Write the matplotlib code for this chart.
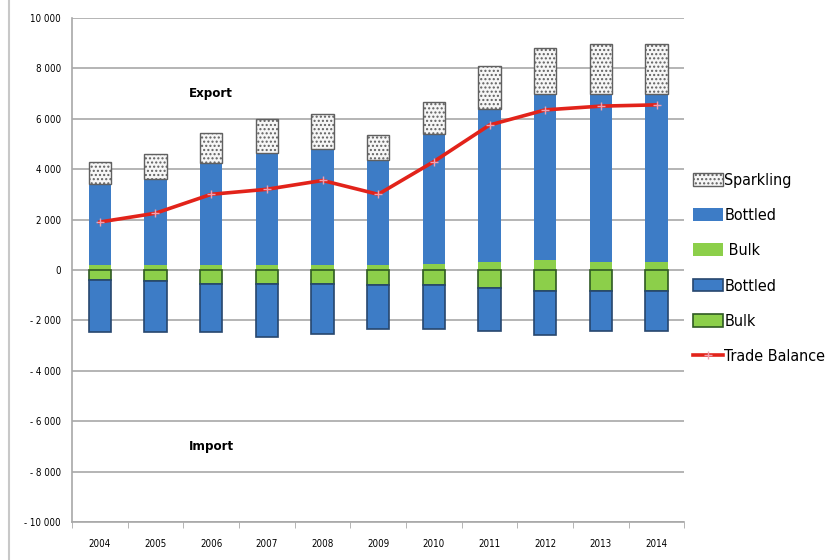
import numpy as np
import matplotlib.pyplot as plt
from matplotlib.lines import Line2D
from matplotlib.ticker import FuncFormatter, FixedLocator

plt.rcParams['font.family'] = ['DejaVu Sans']
plt.rcParams['font.stretch'] = 'condensed'

years = ['2004', '2005', '2006', '2007', '2008', '2009', '2010', '2011', '2012', '2013', '2014']

# export side (positive), stacked: bulk, bottled, sparkling
exp_bulk = [200, 200, 200, 200, 200, 200, 250, 300, 400, 300, 300]
exp_bottled = [3200, 3400, 4050, 4450, 4600, 4150, 5150, 6100, 6600, 6700, 6700]
exp_sparkling = [900, 1000, 1200, 1350, 1400, 1000, 1250, 1700, 1800, 1950, 1950]

# import side (negative), stacked downward: bulk, bottled
imp_bulk = [-400, -450, -550, -550, -550, -600, -600, -720, -820, -820, -820]
imp_bottled = [-2080, -2030, -1930, -2130, -2010, -1760, -1760, -1720, -1780, -1620, -1620]

trade_balance = [1900, 2250, 3000, 3200, 3550, 3000, 4300, 5750, 6350, 6500, 6550]

blue = '#3d7cc6'
green = '#8ccf4a'

x = np.arange(len(years))
w = 0.4

fig = plt.figure(figsize=(8.31, 5.6), dpi=100)
ax = fig.add_axes([0.0866, 0.068, 0.737, 0.9])

# thin border line on the left of the sheet
fig.add_artist(Line2D([0.011, 0.011], [0, 1], color='#c8c8c8', lw=1.5))

exp_bulk = np.array(exp_bulk)
exp_bottled = np.array(exp_bottled)
imp_bulk = np.array(imp_bulk)

b_eb = ax.bar(x, exp_bulk, w, color=green, zorder=3)
b_ebo = ax.bar(x, exp_bottled, w, bottom=exp_bulk, color=blue, zorder=3)
b_sp = ax.bar(x, exp_sparkling, w, bottom=exp_bulk + exp_bottled, color='#f6f6f6',
              edgecolor='#606060', hatch='....', linewidth=1.0, zorder=3)

b_ib = ax.bar(x, imp_bulk, w, color=green, edgecolor='#2f5a22', linewidth=1.2, zorder=3)
b_ibo = ax.bar(x, imp_bottled, w, bottom=imp_bulk, color=blue, edgecolor='#27476e',
               linewidth=1.2, zorder=3)

tb, = ax.plot(x, trade_balance, color='#e2231a', lw=2.6, marker='+', ms=6, mew=1,
              mec='#f0a0b0', zorder=4)

ax.set_xlim(-0.5, len(years) - 0.5)
ax.set_ylim(-10000, 10000)
ax.set_yticks(np.arange(-10000, 10001, 2000))

def fmt(v, pos):
    s = f'{abs(int(v)):,}'.replace(',', ' ')
    return ('- ' + s) if v < 0 else s

ax.yaxis.set_major_formatter(FuncFormatter(fmt))
ax.tick_params(axis='y', length=0, labelsize=7, pad=8)
ax.yaxis.grid(True, color='#a8a8a8', lw=1.2, zorder=0)

ax.set_xticks(x)
ax.set_xticklabels(years)
ax.xaxis.set_minor_locator(FixedLocator(np.arange(-0.5, len(years), 1)))
ax.tick_params(axis='x', which='major', length=0, labelsize=7, pad=12)
ax.tick_params(axis='x', which='minor', length=4, color='#a8a8a8')

for s in ['top', 'right']:
    ax.spines[s].set_visible(False)
ax.spines['left'].set_color('#a8a8a8')
ax.spines['bottom'].set_color('#a8a8a8')
ax.spines['left'].set_linewidth(1.2)
ax.spines['bottom'].set_linewidth(1.2)

ax.text(2, 7000, 'Export', ha='center', va='center', fontsize=9.5, fontweight='bold')
ax.text(2, -7000, 'Import', ha='center', va='center', fontsize=9.5, fontweight='bold')

ax.legend([b_sp, b_ebo, b_eb, b_ibo, b_ib, tb],
          ['Sparkling', 'Bottled', ' Bulk', 'Bottled', 'Bulk', 'Trade Balance'],
          loc='center left', bbox_to_anchor=(0.995, 0.503), frameon=False,
          fontsize=11.5, handlelength=1.9, handleheight=0.85, handletextpad=0.1,
          labelspacing=1.27, borderaxespad=0.3)

fig.savefig('out.png', dpi=100)
